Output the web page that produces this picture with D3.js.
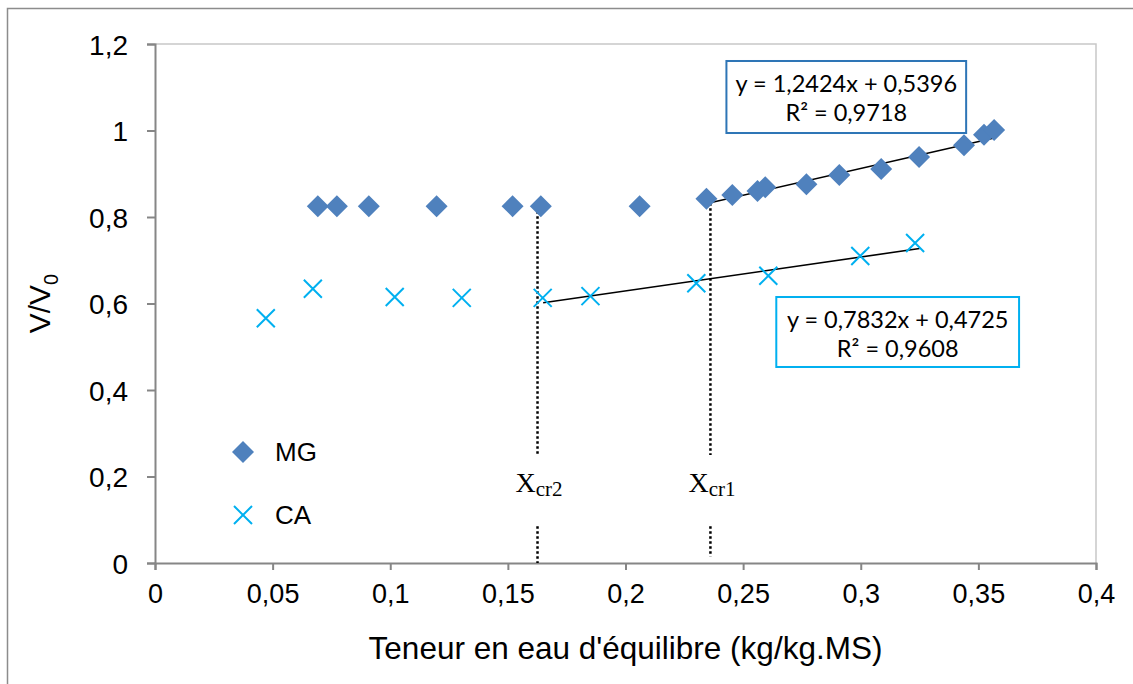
<!DOCTYPE html>
<html><head><meta charset="utf-8">
<script src="https://cdn.jsdelivr.net/npm/d3@7"></script>
<style>html,body{margin:0;padding:0;background:#fff;}svg{display:block;}</style>
</head><body>
<svg id="c" width="1133" height="684"></svg>
<script>
// ---- data ----
const mgX = [0.0692,0.0773,0.0909,0.1197,0.1520,0.1640,0.2060,0.2344,0.2454,0.2561,0.2594,0.2769,0.2909,0.3087,0.3248,0.3439,0.3524,0.3567];
const mgY = [0.825,0.825,0.825,0.825,0.825,0.825,0.825,0.842,0.851,0.860,0.869,0.876,0.897,0.911,0.939,0.966,0.990,1.001];
const caX = [0.0471,0.0671,0.1019,0.1304,0.1648,0.1851,0.2301,0.2607,0.2998,0.3231];
const caY = [0.566,0.634,0.615,0.613,0.613,0.617,0.647,0.664,0.710,0.740];
const xTicks = [0,0.05,0.1,0.15,0.2,0.25,0.3,0.35,0.4];
const yTicks = [0,0.2,0.4,0.6,0.8,1,1.2];
const mgFit = {slope:1.2424, intercept:0.5396, r2:"0,9718", eq:"y = 1,2424x + 0,5396", from:0.2355, to:0.3567};
const caFit = {slope:0.7832, intercept:0.4725, r2:"0,9608", eq:"y = 0,7832x + 0,4725", from:0.1650, to:0.3250};
const crit = [{name:"cr2", x:0.1626, top:0.825}, {name:"cr1", x:0.2361, top:0.832}];
const seriesNames = ["MG","CA"];
const xTitle = "Teneur en eau d'équilibre (kg/kg.MS)";

const SANS = "'Liberation Sans', Arial, sans-serif";
const fmt = v => String(+v.toFixed(2)).replace('.', ',');
const svg = d3.select('#c');
const x = d3.scaleLinear().domain([0,0.4]).range([155,1096]);
const y = d3.scaleLinear().domain([0,1.2]).range([563,44]);

// outer chart border
svg.append('rect').attr('x',7.5).attr('y',8.5).attr('width',1140).attr('height',700)
  .attr('fill','none').attr('stroke','#8c8c8c').attr('stroke-width',1.5);

// plot area border (top/right light)
svg.append('path').attr('d',`M${x(0)},${y(1.2)}H${x(0.4)}V${y(0)}`)
  .attr('fill','none').attr('stroke','#c8c8c8').attr('stroke-width',1.5);

const axisCol = '#868686';
const gx = svg.append('g').attr('transform',`translate(0,${y(0)})`)
  .call(d3.axisBottom(x).tickValues(xTicks).tickSize(7).tickPadding(14).tickFormat(fmt));
const gy = svg.append('g').attr('transform',`translate(${x(0)},0)`)
  .call(d3.axisLeft(y).tickValues(yTicks).tickSize(8).tickPadding(19).tickFormat(fmt));
[gx,gy].forEach(g=>{
  g.select('.domain').attr('stroke',axisCol).attr('stroke-width',2);
  g.selectAll('.tick line').attr('stroke',axisCol).attr('stroke-width',2);
  g.selectAll('.tick text').attr('fill','#000').style('font-family',SANS).style('font-size','27px');
});
gy.selectAll('.tick text').attr('dy','0.36em').style('font-size','28px');

// axis titles
svg.append('text').attr('x',(x(0)+x(0.4))/2).attr('y',659).attr('text-anchor','middle')
  .style('font-family',SANS).style('font-size','31.5px').text(xTitle);
const yt = svg.append('text').attr('transform',`translate(50,${(y(0)+y(1.2))/2}) rotate(-90)`).attr('text-anchor','middle')
  .style('font-family',SANS).style('font-size','30px');
yt.append('tspan').text('V/V');
yt.append('tspan').attr('dy',8).style('font-size','20px').text('0');

// critical lines
const dotted = (x0,y0,y1)=>svg.append('line').attr('x1',x(x0)).attr('x2',x(x0)).attr('y1',y(y0)).attr('y2',y(y1))
  .attr('stroke','#000').attr('stroke-width',2.5).attr('stroke-dasharray','2.5,2.5');
crit.forEach(c=>{
  dotted(c.x, c.top, 0.25);
  dotted(c.x, 0.085, c.name==='cr2'?0:0.015);
  const t = svg.append('text').attr('x',x(c.x)-22).attr('y',y(0.165)).style('font-family',"'Liberation Serif', 'Times New Roman', serif").style('font-size','28px');
  t.append('tspan').text('X');
  t.append('tspan').attr('dy',4).style('font-size','21px').text(c.name);
});

// trend lines
[mgFit,caFit].forEach(f=>{
  svg.append('line').attr('x1',x(f.from)).attr('y1',y(f.slope*f.from+f.intercept))
    .attr('x2',x(f.to)).attr('y2',y(f.slope*f.to+f.intercept)).attr('stroke','#000').attr('stroke-width',1.6);
});

// markers
const diamond = (g,cx,cy)=>g.append('path').attr('d',`M${cx},${cy-11}L${cx+11},${cy}L${cx},${cy+11}L${cx-11},${cy}Z`).attr('fill','#4F81BD');
const cross = (g,cx,cy)=>g.append('path').attr('d',`M${cx-9},${cy-9}L${cx+9},${cy+9}M${cx-9},${cy+9}L${cx+9},${cy-9}`).attr('stroke','#00B0F0').attr('stroke-width',2).attr('fill','none');
const gm = svg.append('g');
mgX.forEach((v,i)=>diamond(gm,x(v),y(mgY[i])));
const gc = svg.append('g');
caX.forEach((v,i)=>cross(gc,x(v),y(caY[i])));

// equation boxes
function eqBox(f,x0,x1,yTop,yBot,col){
  const bx=x(x0), by=y(yTop), bw=x(x1)-x(x0), bh=y(yBot)-y(yTop);
  svg.append('rect').attr('x',bx).attr('y',by).attr('width',bw).attr('height',bh).attr('fill','#fff').attr('stroke',col).attr('stroke-width',2);
  const t = svg.append('text').attr('text-anchor','middle').style('font-family','Lato, sans-serif').style('font-size','23.5px');
  t.append('tspan').attr('x',bx+bw/2).attr('y',by+31).text(f.eq);
  t.append('tspan').attr('x',bx+bw/2).attr('y',by+60).text('R² = '+f.r2);
}
eqBox(mgFit,0.2429,0.3448,1.1607,0.9942,'#2E75B6');
eqBox(caFit,0.2641,0.3673,0.615,0.4532,'#00B0F0');

// legend
const lg = svg.append('g');
diamond(lg,243,452);
cross(lg,243,515);
lg.append('text').attr('x',275).attr('y',461).text(seriesNames[0]).style('font-family',SANS).style('font-size','26px');
lg.append('text').attr('x',275).attr('y',524).text(seriesNames[1]).style('font-family',SANS).style('font-size','26px');
</script>
</body></html>
